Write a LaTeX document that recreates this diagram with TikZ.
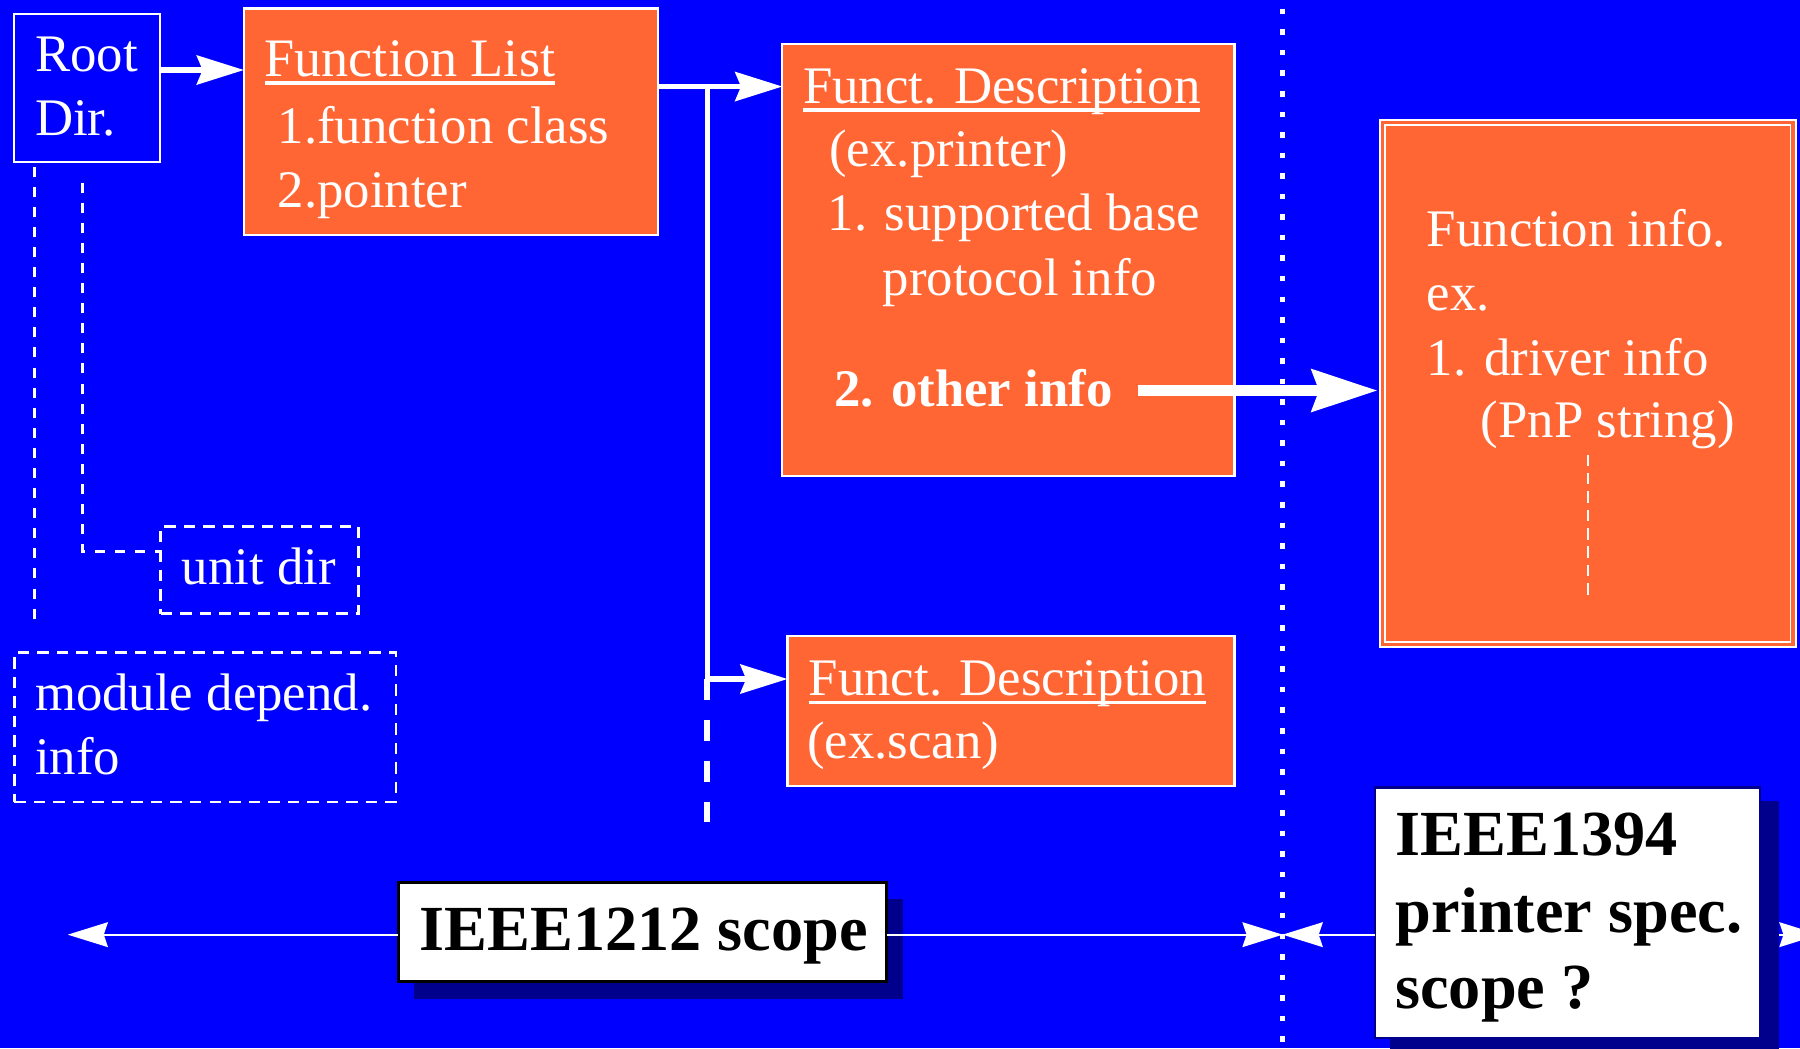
\documentclass[tikz,border=0pt]{standalone}
\usepackage{fontspec}
\setmainfont{Liberation Serif}
\usetikzlibrary{arrows.meta,fit}
\definecolor{bg}{RGB}{0,0,255}
\definecolor{org}{RGB}{255,102,51}
\definecolor{shd}{RGB}{0,0,140}
\newcommand\myul[1]{\sbox0{#1}\rlap{\rule[-3.6pt]{\wd0}{1.4pt}}\usebox0}
\newcommand\fsreg{\fontsize{23}{28}\selectfont}
\newcommand\fsbig{\fontsize{28}{33}\selectfont\bfseries}
\begin{document}
\begin{tikzpicture}[x=0.5pt,y=-0.5pt,
  txt/.style={anchor=base west,inner sep=0pt,outer sep=0pt,text=white,font=\fsreg},
  btxt/.style={anchor=base west,inner sep=0pt,outer sep=0pt,text=black,font=\fsbig},
  anybox/.style={inner sep=0pt,outer sep=0pt},
  obox/.style={anybox,fill=org,draw=white,line width=1pt},
  bluebox/.style={anybox,fill=bg,draw=white,line width=1pt},
  dbox/.style={anybox,draw=white,line width=1.1pt,dash pattern=on 5pt off 3.5pt},
  wbox/.style={anybox,fill=white,draw=black,line width=1.2pt},
  wboxb/.style={anybox,fill=white,draw=shd,line width=0.9pt},
  shdbox/.style={anybox,fill=shd,draw=none},
  fibox/.style={anybox,fill=org,draw=white,line width=0.75pt,double=org,double distance=1.5pt},
  arr/.style={draw=white,line width=2.4pt,-{Stealth[length=20.5pt,width=12.6pt,inset=2.5pt]}},
  bigarr/.style={draw=white,line width=4.8pt,-{Stealth[length=28.5pt,width=18pt,inset=3pt]}},
  thinarr/.style={draw=white,line width=0.8pt,-{Stealth[length=17.5pt,width=10.8pt,inset=1.8pt]}},
  busline/.style={draw=white,line width=2.2pt},
  busdash/.style={draw=white,line width=2.4pt,dash pattern=on 9.15pt off 8.7pt},
  dotline/.style={draw=white,line width=2.4pt,dash pattern=on 2.4pt off 6.55pt,dash phase=5.1pt},
  dashline/.style={draw=white,line width=1.15pt,dash pattern=on 4.35pt off 4.4pt},
  thindash/.style={draw=white,line width=0.9pt,dash pattern=on 5pt off 3pt}
]
\useasboundingbox (0,0) rectangle (1568,913);
\clip (0,0) rectangle (1568,913);
\fill[bg] (0,0) rectangle (1568,913);

% shadows
\node[shdbox, fit={(361,783)(786.5,870.5)}] (sh1) {};
\coordinate (sl) at (59,814.2);
\coordinate (sr) at (1585,814.2);
\node[shdbox, fit={(1211,698)(1549.5,930)}] (sh2) {};
\draw[thinarr] (sh2.east |- sl) -- (sr);

% boxes
\node[bluebox, fit={(12,12)(139.5,141)}] (root) {};
\node[obox, fit={(212.5,7.5)(573,205)}] (fl) {};
\node[obox, fit={(681.5,38.5)(1075.5,414.5)}] (fd1) {};
\node[obox, fit={(686,554)(1075.5,685)}] (fd2) {};
\node[dbox, fit={(140,458.5)(312.5,534.5)}] (ud) {};
\node[dbox, fit={(12.5,568.5)(345,698.5)}] (md) {};
\node[wbox, fit={(347,769)(772.5,855)}] (s1) {};
\node[wboxb, fit={(1198,686)(1533.3,904.5)}] (s2) {};
\node[fibox, fit={(1204.5,106.5)(1562,561.2)}] (fi) {};

% dotted divider
\coordinate (dt) at (1117.3,0);
\coordinate (db) at (1117.3,913);
\draw[dotline] (dt) -- (db);

% connectors
\coordinate (a1) at (0,61);
\draw[arr] (root.east |- a1) -- (fl.west |- a1);
\coordinate (bt) at (616,75.4);
\coordinate (bj) at (616,591.5);
\coordinate (bb) at (616,716);
\draw[busline] (fl.east |- bt) -- (bt) -- (bj);
\draw[busdash] (bj) -- (bb);
\draw[arr] (bt) -- (fd1.west |- bt);
\draw[arr] (bj) -- (fd2.west |- bj);

\coordinate (oa) at (991.6,340.2);
\draw[bigarr] (oa) -- ([xshift=-2.2pt]fi.west |- oa);

\coordinate (sm) at (1117.3,814.2);
\draw[thinarr] (s1.west |- sl) -- (sl);
\draw[thinarr] (s1.east |- sl) -- (sm);
\draw[thinarr] (s2.west |- sl) -- (sm);

\coordinate (l1a) at (29.9,145.2);
\coordinate (l1b) at (29.9,545.9);
\draw[dashline] (l1a) -- (l1b);
\coordinate (l2a) at (71.7,159.1);
\draw[dashline] (l2a) |- ([yshift=8pt]ud.west);

\coordinate (pa) at (1383,396);
\coordinate (pb) at (1383,523.6);
\draw[thindash] (pa) -- (pb);

% texts
\node[txt] (t1) at (30.5,62.5) {Root};
\node[txt] (t2) at (30.5,118) {Dir.};
\node[txt,font=\fontsize{23.6}{28}\selectfont] (t3) at (230.5,66.5) {\myul{Function List}};
\node[txt] (t4) at (242,125) {1.function class};
\node[txt] (t5) at (242,180.5) {2.pointer};
\node[txt] (t6) at (699.5,90) {\myul{Funct. Description}};
\node[txt] (t7) at (722.5,145) {(ex.printer)};
\node[txt] (t8) at (721,201) {1. supported base};
\node[txt] (t9) at (769,257) {protocol info};
\node[txt,font=\fsreg\bfseries] (t10) at (726.5,354) {2. other info};
\node[txt] (t11) at (1243,214.7) {Function info.};
\node[txt] (t12) at (1243,270.7) {ex.};
\node[txt] (t13) at (1243,326.7) {1. driver info};
\node[txt] (t14) at (1290,381) {(PnP string)};
\node[txt] (t15) at (704.5,606) {\myul{Funct. Description}};
\node[txt] (t16) at (703,661) {(ex.scan)};
\node[txt] (t17) at (158.5,509.5) {unit dir};
\node[txt] (t18) at (30.5,619) {module depend.};
\node[txt] (t19) at (30.5,674.5) {info};
\node[btxt] (t20) at (365.5,828.2) {IEEE1212 scope};
\node[btxt] (t21) at (1215.5,745.6) {IEEE1394};
\node[btxt] (t22) at (1216,812.4) {printer spec.};
\node[btxt] (t23) at (1215.5,878.3) {scope ?};
\end{tikzpicture}
\end{document}
